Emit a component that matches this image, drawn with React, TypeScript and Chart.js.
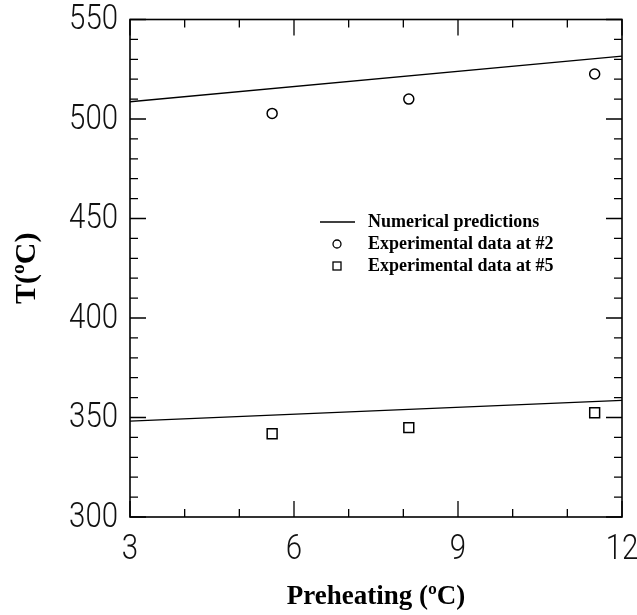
import React, { useEffect, useRef } from "react";
import { Chart, registerables } from "chart.js";

Chart.register(...registerables);

// ---- data ----
const xTickLabels = [3, 6, 9, 12];
const yTickLabels = [300, 350, 400, 450, 500, 550];

const numericalX = [3, 12];
const numericalAt2 = [508.7, 531.6];
const numericalAt5 = [348.2, 358.6];

const expX = [5.6, 8.1, 11.5];
const expAt2 = [502.8, 510.0, 522.6];
const expAt5 = [341.8, 344.9, 352.4];

const legendLabels = [
  "Numerical predictions",
  "Experimental data at #2",
  "Experimental data at #5",
];

const xTitle = "Preheating (\u00BAC)";
const yTitle = "T(\u00BAC)";

const toPts = (xs: number[], ys: number[]) => xs.map((x, i) => ({ x, y: ys[i] }));

const TICK_FONT = '300 35px Roboto, "Liberation Sans", sans-serif';
const SERIF = '"Liberation Serif", "Times New Roman", serif';
const SQUEEZE = 0.84;

const framePlugin = {
  id: "frameTicks",
  afterDraw(chart: any) {
    const { ctx, chartArea: a, scales } = chart;
    const xs = scales.x;
    const ys = scales.y;
    ctx.save();
    ctx.strokeStyle = "#000";
    ctx.lineWidth = 1.6;
    ctx.strokeRect(a.left, a.top, a.right - a.left, a.bottom - a.top);
    ctx.lineWidth = 1.3;
    // x ticks
    for (let v = xs.min; v <= xs.max + 1e-9; v += 1) {
      const px = xs.getPixelForValue(v);
      const major = Math.abs((v - xs.min) % 3) < 1e-9;
      const len = major ? 16 : 8;
      ctx.beginPath();
      ctx.moveTo(px, a.bottom);
      ctx.lineTo(px, a.bottom - len);
      ctx.moveTo(px, a.top);
      ctx.lineTo(px, a.top + len);
      ctx.stroke();
    }
    // y ticks
    for (let v = ys.min; v <= ys.max + 1e-9; v += 10) {
      const py = ys.getPixelForValue(v);
      const major = Math.abs((v - ys.min) % 50) < 1e-9;
      const len = major ? 16 : 8;
      ctx.beginPath();
      ctx.moveTo(a.left, py);
      ctx.lineTo(a.left + len, py);
      ctx.moveTo(a.right, py);
      ctx.lineTo(a.right - len, py);
      ctx.stroke();
    }
    // tick labels (condensed light sans)
    ctx.fillStyle = "#111";
    ctx.font = TICK_FONT;
    ctx.textBaseline = "middle";
    ctx.textAlign = "right";
    yTickLabels.forEach((v) => {
      ctx.save();
      ctx.translate(a.left - 12, ys.getPixelForValue(v) + 1);
      ctx.scale(SQUEEZE, 1);
      ctx.fillText(String(v), 0, 0);
      ctx.restore();
    });
    ctx.textBaseline = "alphabetic";
    ctx.textAlign = "center";
    xTickLabels.forEach((v) => {
      ctx.save();
      ctx.translate(xs.getPixelForValue(v), a.bottom + 42);
      ctx.scale(SQUEEZE, 1);
      ctx.fillText(String(v), 0, 0);
      ctx.restore();
    });
    // legend
    const lx = 320;
    const tx = 368;
    const rows = [222, 244, 266];
    ctx.fillStyle = "#000";
    ctx.font = `bold 18px ${SERIF}`;
    ctx.textBaseline = "middle";
    ctx.textAlign = "left";
    legendLabels.forEach((t, i) => {
      ctx.fillText(t, tx, rows[i]);
    });
    ctx.lineWidth = 1.3;
    ctx.beginPath();
    ctx.moveTo(lx, rows[0]);
    ctx.lineTo(lx + 35, rows[0]);
    ctx.stroke();
    ctx.beginPath();
    ctx.arc(lx + 17, rows[1], 4, 0, Math.PI * 2);
    ctx.stroke();
    ctx.strokeRect(lx + 13, rows[2] - 4, 8, 8);
    ctx.restore();
  },
};

export default function App() {
  const ref = useRef<HTMLCanvasElement | null>(null);
  useEffect(() => {
    if (!ref.current) return;
    const chart = new Chart(ref.current, {
      type: "scatter",
      data: {
        datasets: [
          {
            label: legendLabels[0],
            data: toPts(numericalX, numericalAt2),
            showLine: true,
            borderColor: "#000",
            borderWidth: 1.4,
            pointRadius: 0,
          },
          {
            label: legendLabels[0] + " 2",
            data: toPts(numericalX, numericalAt5),
            showLine: true,
            borderColor: "#000",
            borderWidth: 1.4,
            pointRadius: 0,
          },
          {
            label: legendLabels[1],
            data: toPts(expX, expAt2),
            pointStyle: "circle",
            pointRadius: 5,
            borderColor: "#000",
            borderWidth: 1.5,
            backgroundColor: "#fff",
          },
          {
            label: legendLabels[2],
            data: toPts(expX, expAt5),
            pointStyle: "rect",
            pointRadius: 7,
            borderColor: "#000",
            borderWidth: 1.5,
            backgroundColor: "#fff",
          },
        ],
      },
      options: {
        animation: false,
        responsive: false,
        devicePixelRatio: 1,
        layout: { padding: { top: 19.5, right: 15, left: 0, bottom: 0 } },
        plugins: {
          legend: { display: false },
          tooltip: { enabled: false },
        },
        scales: {
          x: {
            type: "linear",
            min: 3,
            max: 12,
            grid: { display: false },
            border: { display: false },
            ticks: { display: false, stepSize: 3 },
            title: {
              display: true,
              text: xTitle,
              color: "#000",
              font: { family: SERIF, size: 27, weight: "bold", lineHeight: 1.2 },
              padding: { top: 0, bottom: 2 },
            },
            afterFit: (s: any) => {
              s.height = 98;
              s.paddingLeft = 0;
              s.paddingRight = 0;
            },
          },
          y: {
            type: "linear",
            min: 300,
            max: 550,
            grid: { display: false },
            border: { display: false },
            ticks: { display: false, stepSize: 50 },
            title: {
              display: true,
              text: yTitle,
              color: "#000",
              font: { family: SERIF, size: 30, weight: "bold", lineHeight: 1.2 },
              padding: { top: 9, bottom: 0 },
            },
            afterFit: (s: any) => {
              s.width = 130;
              s.paddingTop = 0;
              s.paddingBottom = 0;
            },
          },
        },
      },
      plugins: [framePlugin],
    } as any);
    return () => chart.destroy();
  }, []);
  return (
    <div style={{ position: "absolute", left: 0, top: 0, width: 637, height: 615, background: "#fff" }}>
      <canvas ref={ref} width={637} height={615} style={{ display: "block" }} />
    </div>
  );
}
